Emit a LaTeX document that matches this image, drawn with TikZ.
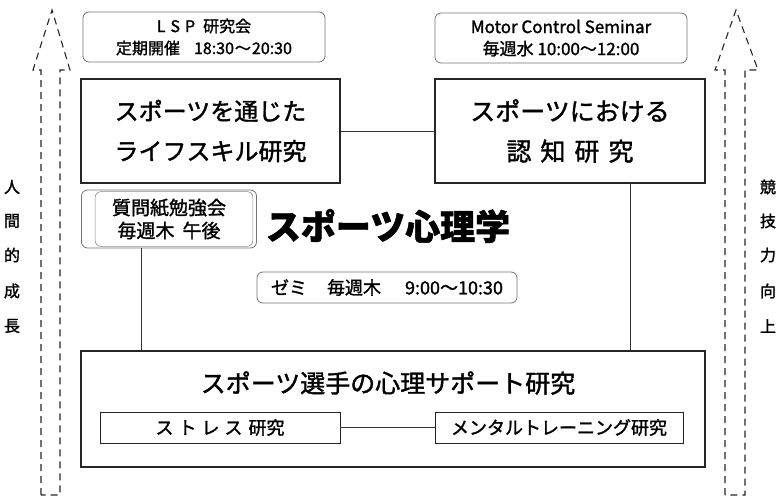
\documentclass[tikz,border=0pt]{standalone}
\usepackage{fontspec}
\setmainfont{Noto Sans CJK JP}[FakeBold=1.5]
\usetikzlibrary{calc}
\begin{document}
\begin{tikzpicture}[x=1pt,y=-1pt,
  mainbox/.style={draw=black!85, line width=1.1pt, inner sep=0pt, align=center},
  roundbox/.style={draw=black!55, line width=0.8pt, rounded corners=6pt, inner sep=0pt, align=center},
  link/.style={draw=black!80, line width=0.8pt},
  sidearrow/.style={draw=black!85, line width=1.1pt, dash pattern=on 7pt off 5pt},
  sidetext/.style={font=\fontsize{16}{16}\selectfont, inner sep=0pt}]
\useasboundingbox (0,0) rectangle (781,498);

% dashed side arrows
\draw[sidearrow] (41,495) -- (41,70) -- (33,70) -- (52,10) -- (70,70) -- (60,70) -- (60,495) -- cycle;
\draw[sidearrow] (725,495) -- (725,70) -- (715,70) -- (736,10) -- (758,70) -- (745,70) -- (745,495) -- cycle;

% side texts
\foreach \c/\y [count=\i] in {人/187,間/221,的/255,成/291,長/326}
  \node[sidetext] (l\i) at (12,\y) {\c};
\foreach \c/\y [count=\i] in {競/187,技/221,力/255,向/291,上/326}
  \node[sidetext] (r\i) at (768,\y) {\c};

% top rounded boxes
\node[roundbox, minimum width=242pt, minimum height=50pt,
      font=\fontsize{16}{22}\selectfont] (lsp) at (204,37)
  {L\hspace{5pt}S\hspace{5pt}P\hspace{8pt}研究会\\定期開催\hspace{14pt}18:30\hspace{1pt}～\hspace{1pt}20:30};
\node[roundbox, minimum width=252pt, minimum height=50pt,
      font=\fontsize{17}{22}\selectfont] (mcs) at (561,38)
  {Motor Control Seminar\\毎週水 10:00～12:00};

% main research boxes
\node[mainbox, minimum width=259pt, minimum height=104pt,
      font=\fontsize{24}{40}\selectfont] (life) at (210.5,131)
  {スポーツを通じた\\ライフスキル研究};
\node[mainbox, minimum width=270pt, minimum height=104pt,
      font=\fontsize{25}{40}\selectfont] (cog) at (570,131)
  {スポーツにおける\\認\hspace{9pt}知\hspace{9pt}研\hspace{9pt}究};

% question-paper box (double rounded outline)
\node[roundbox, minimum width=175pt, minimum height=58pt,
      font=\fontsize{19}{23}\selectfont] (qbox) at (169,219)
  {質問紙勉強会\\毎週木\hspace{8pt}午後};
\draw[draw=black!45, line width=0.6pt, rounded corners=6pt]
  ($(qbox.south west)+(14,-2)$) rectangle ($(qbox.north east)+(-4,2)$);

% title
\node[inner sep=0pt, font=\fontsize{35}{35}\selectfont\bfseries] (title) at (388,226) {スポーツ心理学};

% seminar box
\node[roundbox, minimum width=260pt, minimum height=31pt,
      font=\fontsize{18}{18}\selectfont] (zemi) at (387,287.5)
  {ゼミ\hspace{20pt}毎週木\hspace{24pt}9:00～10:30};

% bottom box
\node[mainbox, minimum width=624pt, minimum height=116pt] (supp) at (393,409) {};
\node[inner sep=0pt, font=\fontsize{25}{25}\selectfont] (supptitle) at (388,383)
  {スポーツ選手の心理サポート研究};
\node[mainbox, line width=0.8pt, minimum width=240pt, minimum height=31pt,
      font=\fontsize{18}{18}\selectfont] (stress) at (220,427.5)
  {ス\hspace{5pt}ト\hspace{5pt}レ\hspace{5pt}ス\hspace{6pt}研究};
\node[mainbox, line width=0.8pt, minimum width=248pt, minimum height=31pt,
      font=\fontsize{18}{18}\selectfont] (mental) at (559,427.5)
  {メンタルトレーニング研究};

% connectors
\draw[link] (life.east) -- (cog.west);
\coordinate (c1) at (630,183);
\draw[link] (c1) -- (c1 |- supp.north);
\coordinate (c2) at (141,248);
\draw[link] (c2) -- (c2 |- supp.north);
\draw[link] (stress.east) -- (mental.west);
\end{tikzpicture}
\end{document}
